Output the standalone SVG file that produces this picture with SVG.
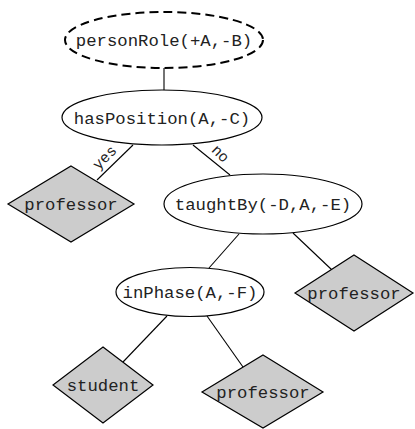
<svg xmlns="http://www.w3.org/2000/svg" width="415" height="429" viewBox="0 0 415 429">
<style>
.bg{fill:#fff}
.ell{fill:#fff;stroke:#000;stroke-width:1.2}
.dash{fill:#fff;stroke:#000;stroke-width:2;stroke-dasharray:9,5}
.leaf{fill:#cccccc;stroke:#000;stroke-width:1.2}
.t{font-family:"Liberation Mono","Courier New",monospace;font-size:17.3px;fill:#222;text-anchor:middle}
.lbl{font-family:"Liberation Mono","Courier New",monospace;font-size:15px;fill:#222;text-anchor:middle}
.edge{stroke:#000;stroke-width:1.1;fill:none}
</style>
<rect class="bg" x="0" y="0" width="415" height="429"/>
<g id="connectors">
<line class="edge" x1="164" y1="68" x2="164" y2="90"/>
<line class="edge" x1="133" y1="145" x2="97" y2="180"/>
<line class="edge" x1="193" y1="145" x2="230" y2="175"/>
<line class="edge" x1="239" y1="234" x2="209" y2="268"/>
<line class="edge" x1="293" y1="233" x2="332" y2="270"/>
<line class="edge" x1="167" y1="316" x2="123" y2="362"/>
<line class="edge" x1="207" y1="316" x2="243" y2="367"/>
<text class="lbl" transform="translate(108,161) rotate(-45)">yes</text>
<text class="lbl" transform="translate(217,157) rotate(45)">no</text>
</g>
<g id="personRole">
<ellipse class="dash" cx="164" cy="40" rx="99" ry="28"/>
<text class="t" x="164" y="46">personRole(+A,-B)</text>
</g>
<g id="hasPosition">
<ellipse class="ell" cx="162" cy="117.5" rx="100" ry="27.5"/>
<text class="t" x="162" y="124">hasPosition(A,-C)</text>
</g>
<g id="professor1">
<polygon class="leaf" points="71,166 134,204 71,242 8,204"/>
<text class="t" x="71" y="210">professor</text>
</g>
<g id="taughtBy">
<ellipse class="ell" cx="263" cy="204" rx="99" ry="30"/>
<text class="t" x="263" y="210">taughtBy(-D,A,-E)</text>
</g>
<g id="inPhase">
<ellipse class="ell" cx="190" cy="292" rx="74" ry="24.5"/>
<text class="t" x="190" y="298">inPhase(A,-F)</text>
</g>
<g id="professor2">
<polygon class="leaf" points="354,255 413,293 354,331 295,293"/>
<text class="t" x="354" y="299">professor</text>
</g>
<g id="student">
<polygon class="leaf" points="103,347 153,385 103,423 53,385"/>
<text class="t" x="103" y="391">student</text>
</g>
<g id="professor3">
<polygon class="leaf" points="263,355 323,392 263,428 202,392"/>
<text class="t" x="263" y="398">professor</text>
</g>
</svg>
